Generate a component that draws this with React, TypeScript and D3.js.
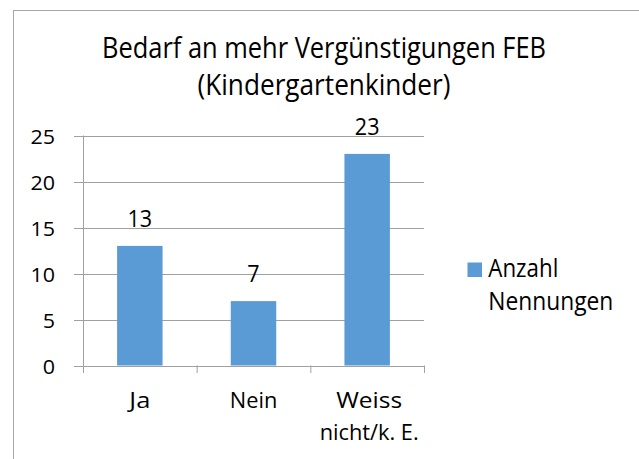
import React from "react";
import * as d3 from "d3";

const categories: string[][] = [["Ja"], ["Nein"], ["Weiss", "nicht/k. E."]];
const values: number[] = [13, 7, 23];
const yTicks: number[] = [0, 5, 10, 15, 20, 25];
const titleLines: string[] = ["Bedarf an mehr Vergünstigungen FEB", "(Kindergartenkinder)"];
const seriesName: string[] = ["Anzahl", "Nennungen"];

// measured text widths in the reference (layout only)
const textWidths: Record<string, number> = {
  "Bedarf an mehr Vergünstigungen FEB": 444,
  "(Kindergartenkinder)": 253,
  "Anzahl": 70,
  "Nennungen": 125,
  "Ja": 21,
  "Nein": 47.5,
  "Weiss": 66,
  "nicht/k. E.": 99,
};
const numWidth = (s: string) => s.length * 12.3;

const W = 639, H = 459;
const FONT = "'Open Sans', Lato, sans-serif";
const BAR = "#5B9BD5";
const GRID = "#A0A0A0";

function T(props: { x: number; y: number; s: string; size: number; anchor?: string; w?: number }) {
  const w = props.w ?? textWidths[props.s] ?? numWidth(props.s);
  return (
    <text x={props.x} y={props.y} textAnchor={props.anchor ?? "start"} fontSize={props.size} fill="#000"
      textLength={w} lengthAdjust="spacingAndGlyphs">{props.s}</text>
  );
}

export default function App() {
  const x = d3.scaleBand<number>().domain(d3.range(values.length)).range([83, 424]).paddingInner(0.6).paddingOuter(0.3);
  const y = d3.scaleLinear().domain([0, 25]).range([365.5, 135.5]);
  const step = x.step();
  const x0 = 83;
  return (
    <svg width={W} height={H} style={{ position: "absolute", left: 0, top: 0 }} fontFamily={FONT}>
      <rect x={0} y={0} width={W} height={H} fill="#fff" />
      <rect x={13.5} y={10.5} width={W} height={H} fill="none" stroke="#A6A6A6" strokeWidth={1} />
      {titleLines.map((t, i) => (
        <T key={i} x={324} y={58.3 + i * 37} s={t} size={29.5} anchor="middle" />
      ))}
      {yTicks.map((t) => (
        <g key={t}>
          <line x1={74} x2={424} y1={Math.round(y(t)) + 0.5} y2={Math.round(y(t)) + 0.5} stroke={GRID} strokeWidth={1} />
          <T x={55} y={y(t) + 8} s={String(t)} size={19.6} anchor="end" />
        </g>
      ))}
      <line x1={83.5} x2={83.5} y1={135.5} y2={366} stroke={GRID} />
      {d3.range(values.length + 1).map((i) => (
        <line key={i} x1={83.5 + i * step} x2={83.5 + i * step} y1={365.5} y2={373} stroke={GRID} />
      ))}
      {values.map((v, i) => {
        const bx = x(i)!;
        const bw = x.bandwidth();
        const cx = x0 + i * step + step / 2;
        return (
          <g key={i}>
            <rect x={bx} y={y(v)} width={bw} height={y(0) - y(v)} fill={BAR} />
            <T x={bx + bw / 2} y={y(v) - 19} s={String(v)} size={24} anchor="middle" />
            {categories[i].map((c, j) => (
              <T key={j} x={cx + (categories[i].length > 1 ? 2 : 0)} y={407.5 + j * 32} s={c} size={21} anchor="middle" />
            ))}
          </g>
        );
      })}
      <rect x={467.5} y={262.5} width={14.5} height={14.5} fill={BAR} />
      {seriesName.map((s, i) => (
        <T key={i} x={488.3} y={276.7 + i * 33.3} s={s} size={25} />
      ))}
    </svg>
  );
}
